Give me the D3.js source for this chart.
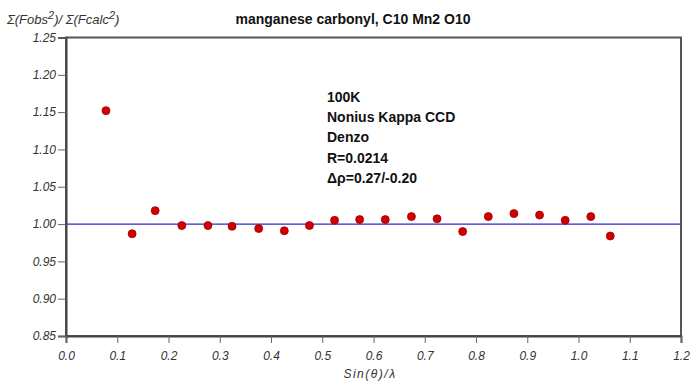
<!DOCTYPE html>
<html>
<head>
<meta charset="utf-8">
<script src="https://cdn.jsdelivr.net/npm/d3@7"></script>
<style>
  html, body { margin: 0; padding: 0; background: #fff; }
  svg { display: block; }
</style>
</head>
<body>
<svg id="chart" width="693" height="383"></svg>
<script>
const sinThetaOverLambda = [0.078, 0.129, 0.174, 0.226, 0.277, 0.324, 0.376, 0.426, 0.475, 0.524, 0.573, 0.623, 0.674, 0.724, 0.774, 0.824, 0.874, 0.924, 0.974, 1.024, 1.062];
const fobsFcalcRatio   = [1.152, 0.987, 1.018, 0.998, 0.998, 0.997, 0.994, 0.991, 0.998, 1.005, 1.006, 1.006, 1.010, 1.007, 0.990, 1.010, 1.014, 1.012, 1.005, 1.010, 0.984];
const xTicks = [0.0, 0.1, 0.2, 0.3, 0.4, 0.5, 0.6, 0.7, 0.8, 0.9, 1.0, 1.1, 1.2];
const yTicks = [0.85, 0.90, 0.95, 1.00, 1.05, 1.10, 1.15, 1.20, 1.25];
const referenceValue = 1.0;
const titleText = "manganese carbonyl, C10 Mn2 O10";
const annotationLines = ["100K", "Nonius Kappa CCD", "Denzo", "R=0.0214", "\u0394\u03C1=0.27/-0.20"];

const svg = d3.select("#chart");
const m = { left: 66, right: 681, top: 37.5, bottom: 336 };
const x = d3.scaleLinear().domain([0, 1.2]).range([m.left, m.right]);
const y = d3.scaleLinear().domain([0.85, 1.25]).range([m.bottom, m.top]);
const font = "Liberation Sans, Arial, sans-serif";

// reference line at 1.00
svg.append("line")
  .attr("x1", x(0)).attr("x2", x(1.2))
  .attr("y1", y(referenceValue)).attr("y2", y(referenceValue))
  .attr("stroke", "#2a2ad0").attr("stroke-width", 1.3);

// frame
svg.append("rect")
  .attr("x", m.left).attr("y", m.top)
  .attr("width", m.right - m.left).attr("height", m.bottom - m.top)
  .attr("fill", "none").attr("stroke", "#555").attr("stroke-width", 2);

// axes
const yAxis = d3.axisLeft(y).tickValues(yTicks).tickFormat(d3.format(".2f")).tickSize(8).tickPadding(2);
const xAxis = d3.axisBottom(x).tickValues(xTicks).tickFormat(d3.format(".1f")).tickSize(7).tickPadding(8);

const gy = svg.append("g").attr("transform", `translate(${m.left},0)`).call(yAxis);
const gx = svg.append("g").attr("transform", `translate(0,${m.bottom})`).call(xAxis);
[gx, gy].forEach(g => {
  g.attr("font-family", font).attr("font-size", 12);
  g.select(".domain").attr("stroke", "#444").attr("stroke-width", 2);
  g.selectAll(".tick line").attr("stroke", "#666").attr("stroke-width", 1);
  g.selectAll(".tick text")
    .attr("fill", "#333")
    .attr("font-style", "italic")
    .style("font-style", "italic");
});

// points
svg.append("g").selectAll("circle")
  .data(sinThetaOverLambda.map((d, i) => [d, fobsFcalcRatio[i]]))
  .join("circle")
  .attr("cx", d => x(d[0]))
  .attr("cy", d => y(d[1]))
  .attr("r", 4)
  .attr("fill", "#d00000")
  .attr("stroke", "#a00000")
  .attr("stroke-width", 0.8);

// title
svg.append("text")
  .attr("x", 353).attr("y", 24)
  .attr("text-anchor", "middle")
  .style("font-family", font).style("font-weight", "bold").style("font-size", "14px")
  .attr("fill", "#111")
  .text(titleText);

// y-axis title
const yt = svg.append("text")
  .attr("x", 7).attr("y", 24)
  .style("font-family", font).style("font-style", "italic").style("font-size", "13px")
  .attr("fill", "#333");
yt.append("tspan").text("\u03A3(Fobs");
yt.append("tspan").attr("dy", -5).style("font-size", "11px").text("2");
yt.append("tspan").attr("dy", 5).text(")/ \u03A3(Fcalc");
yt.append("tspan").attr("dy", -5).style("font-size", "11px").text("2");
yt.append("tspan").attr("dy", 5).text(")");

// x-axis title
svg.append("text")
  .attr("x", 370).attr("y", 378)
  .attr("text-anchor", "middle")
  .style("font-family", font).style("font-style", "italic").style("font-size", "12px")
  .style("letter-spacing", "1.5px")
  .attr("fill", "#333")
  .text("Sin(\u03B8)/\u03BB");

// annotation
svg.append("g").selectAll("text")
  .data(annotationLines)
  .join("text")
  .attr("x", 327)
  .attr("y", (d, i) => 102 + i * 20.2)
  .style("font-family", font).style("font-weight", "bold").style("font-size", "14px")
  .attr("fill", "#111")
  .text(d => d);
</script>
</body>
</html>
